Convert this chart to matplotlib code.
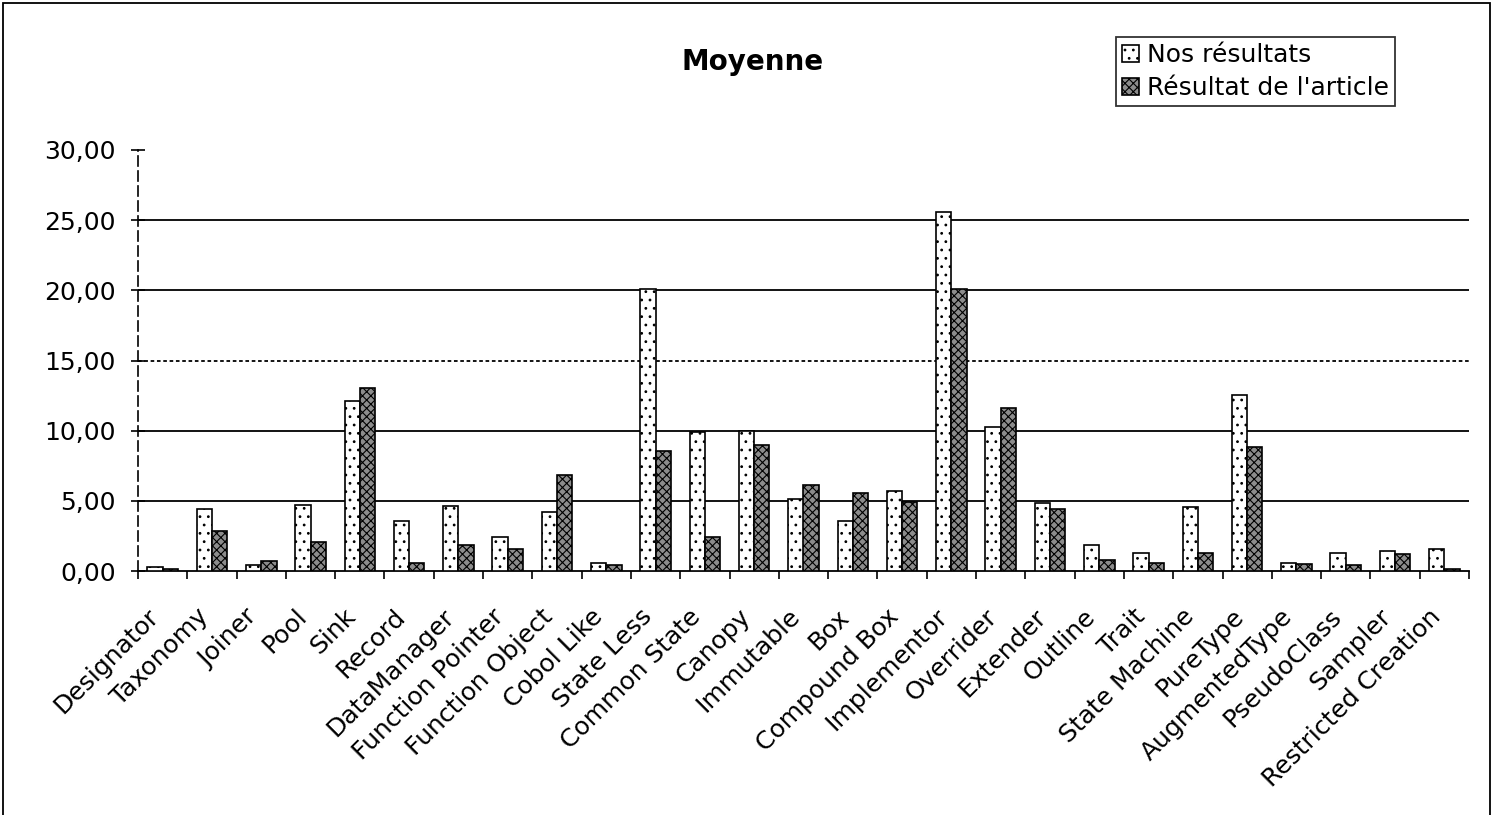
import matplotlib
matplotlib.use('Agg')
import matplotlib.pyplot as plt
import numpy as np
from matplotlib.patches import Rectangle
from matplotlib.transforms import ScaledTranslation

plt.rcParams['font.family'] = ['DejaVu Sans']
plt.rcParams['hatch.linewidth'] = 0.8

# Pattern names on the x axis
categories = ['Designator', 'Taxonomy', 'Joiner', 'Pool', 'Sink', 'Record',
              'DataManager', 'Function Pointer', 'Function Object', 'Cobol Like',
              'State Less', 'Common State', 'Canopy', 'Immutable', 'Box',
              'Compound Box', 'Implementor', 'Overrider', 'Extender', 'Outline',
              'Trait', 'State Machine', 'PureType', 'AugmentedType', 'PseudoClass',
              'Sampler', 'Restricted Creation']

nos_resultats = [0.30, 4.45, 0.43, 4.71, 12.14, 3.57,
                 4.60, 2.43, 4.17, 0.60,
                 20.10, 9.88, 9.95, 5.12, 3.57,
                 5.67, 25.55, 10.24, 4.88, 1.86,
                 1.31, 4.57, 12.55, 0.60, 1.31,
                 1.43, 1.60]

resultat_article = [0.15, 2.86, 0.71, 2.10, 13.05, 0.60,
                    1.86, 1.55, 6.86, 0.45,
                    8.57, 2.43, 8.98, 6.12, 5.55,
                    4.95, 20.10, 11.62, 4.45, 0.79,
                    0.60, 1.31, 8.86, 0.48, 0.45,
                    1.19, 0.12]

y_ticks = [0, 5, 10, 15, 20, 25, 30]
y_labels = ['0,00', '5,00', '10,00', '15,00', '20,00', '25,00', '30,00']

fig = plt.figure(figsize=(14.96, 8.15), dpi=100)
ax = fig.add_axes([138 / 1496, 1 - 571 / 815, (1469 - 138) / 1496, 421 / 815])

x = np.arange(len(categories))
w = 0.31
ax.bar(x - w / 2, nos_resultats, w, facecolor='white', edgecolor='black',
       hatch='..', linewidth=1.2, label='Nos résultats', zorder=3)
ax.bar(x + w / 2, resultat_article, w, facecolor='#8c8c8c', edgecolor='black',
       hatch='xxxx', linewidth=1.2, label="Résultat de l'article", zorder=3)

ax.set_xlim(-0.5, len(categories) - 0.5)
ax.set_ylim(0, 30)

ax.set_yticks(y_ticks)
ax.set_yticklabels(y_labels, fontsize=18)
ax.tick_params(axis='y', direction='inout', length=10, width=1.2, pad=11)

# category ticks sit on the boundaries, labels in the middle
ax.set_xticks(np.arange(len(categories) + 1) - 0.5)
ax.set_xticklabels([])
ax.set_xticks(x, minor=True)
ax.set_xticklabels(categories, minor=True, rotation=45, ha='right',
                   rotation_mode='anchor', fontsize=18)
ax.tick_params(axis='x', which='major', direction='out', length=6, width=1.2)
ax.tick_params(axis='x', which='minor', length=0, pad=24)
shift = ScaledTranslation(-16 / 100, 0, fig.dpi_scale_trans)
for lab in ax.get_xticklabels(minor=True):
    lab.set_transform(lab.get_transform() + shift)

for v in [5, 10, 20, 25]:
    ax.axhline(v, color='black', linewidth=1.3, zorder=1)
ax.axhline(15, color='black', linewidth=1.3, linestyle=(0, (2, 1.5)), zorder=1)

for s in ['top', 'right']:
    ax.spines[s].set_visible(False)
ax.spines['left'].set_linestyle((0, (6, 3)))
ax.spines['left'].set_linewidth(1.2)
ax.spines['bottom'].set_linewidth(1.3)

fig.text(0.503, 0.924, 'Moyenne', ha='center', va='center',
         fontsize=20, fontweight='bold')

leg = ax.legend(loc='upper right', bbox_to_anchor=(1395 / 1496, 1 - 37 / 815),
                bbox_transform=fig.transFigure, fontsize=18, frameon=True,
                fancybox=False, edgecolor='black', handlelength=0.7,
                handleheight=0.7, handletextpad=0.3, borderpad=0.25,
                labelspacing=0.35, borderaxespad=0)
leg.get_frame().set_linewidth(1.3)

# outer chart border
fig.patches.append(Rectangle((0.002, -0.01), 0.994, 1.006, transform=fig.transFigure,
                             fill=False, edgecolor='black', linewidth=1.3))

fig.savefig('out.png', dpi=100)
